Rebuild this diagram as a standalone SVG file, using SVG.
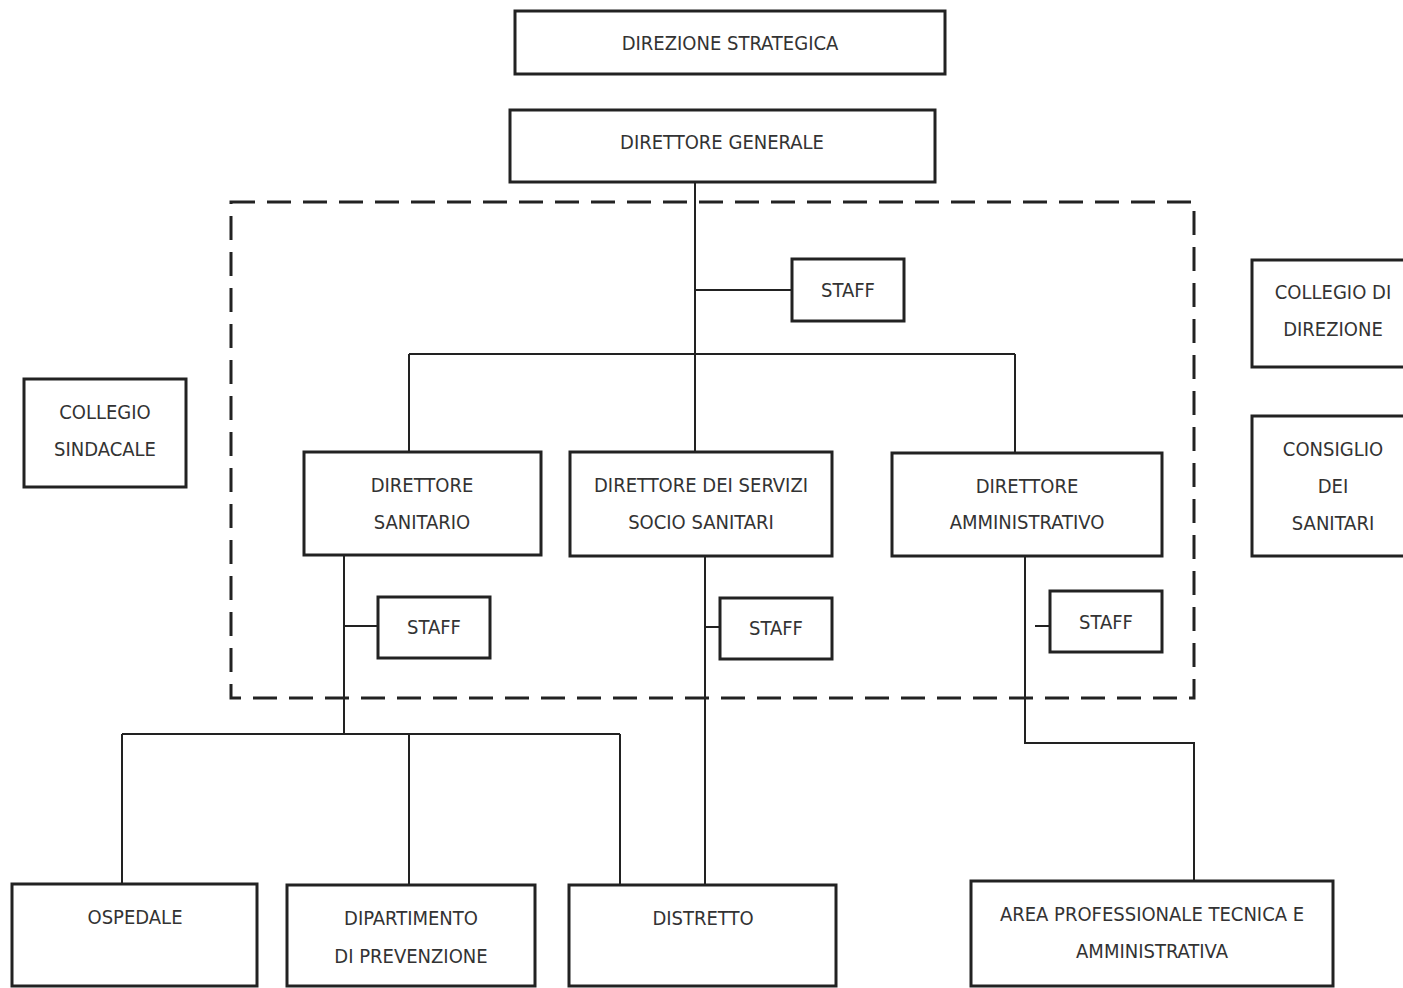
<svg xmlns="http://www.w3.org/2000/svg" width="1403" height="988" viewBox="0 0 1403 988">
<style>
.box{fill:#fff;stroke:#222;stroke-width:3}
.ln{fill:none;stroke:#222;stroke-width:2}
.dash{fill:none;stroke:#222;stroke-width:3;stroke-dasharray:24 12}
text{font-family:"Liberation Sans Narrow","DejaVu Sans Condensed","Liberation Sans",sans-serif;font-size:20px;fill:#333;text-anchor:middle}
</style>
<rect width="1403" height="988" fill="#fff"/>
<g id="connectors">
<rect class="dash" x="231" y="202" width="963" height="496"/>
<path class="ln" d="M695 182V452M695 290H792M409 354H1015M409 354V452M1015 354V452"/>
<path class="ln" d="M344 555V734M344 626H378M122 734H620M122 734V884M409 734V884M620 734V884"/>
<path class="ln" d="M705 556V884M705 627H720"/>
<path class="ln" d="M1025 556V743H1194V881M1035 626H1050"/>
</g>
<g id="direzione-strategica"><rect class="box" x="515" y="11" width="430" height="63"/><text x="730" y="50">DIREZIONE STRATEGICA</text></g>
<g id="direttore-generale"><rect class="box" x="510" y="110" width="425" height="72"/><text x="722" y="149">DIRETTORE GENERALE</text></g>
<g id="staff-dg"><rect class="box" x="792" y="259" width="112" height="62"/><text x="848" y="297">STAFF</text></g>
<g id="collegio-direzione"><rect class="box" x="1252" y="260" width="160" height="107"/><text x="1333" y="299">COLLEGIO DI</text><text x="1333" y="336">DIREZIONE</text></g>
<g id="consiglio-sanitari"><rect class="box" x="1252" y="416" width="160" height="140"/><text x="1333" y="456">CONSIGLIO</text><text x="1333" y="493">DEI</text><text x="1333" y="530">SANITARI</text></g>
<g id="collegio-sindacale"><rect class="box" x="24" y="379" width="162" height="108"/><text x="105" y="419">COLLEGIO</text><text x="105" y="456">SINDACALE</text></g>
<g id="direttore-sanitario"><rect class="box" x="304" y="452" width="237" height="103"/><text x="422" y="492">DIRETTORE</text><text x="422" y="529">SANITARIO</text></g>
<g id="direttore-servizi"><rect class="box" x="570" y="452" width="262" height="104"/><text x="701" y="492">DIRETTORE DEI SERVIZI</text><text x="701" y="529">SOCIO SANITARI</text></g>
<g id="direttore-amministrativo"><rect class="box" x="892" y="453" width="270" height="103"/><text x="1027" y="493">DIRETTORE</text><text x="1027" y="529">AMMINISTRATIVO</text></g>
<g id="staff-ds"><rect class="box" x="378" y="597" width="112" height="61"/><text x="434" y="634">STAFF</text></g>
<g id="staff-dss"><rect class="box" x="720" y="598" width="112" height="61"/><text x="776" y="635">STAFF</text></g>
<g id="staff-da"><rect class="box" x="1050" y="591" width="112" height="61"/><text x="1106" y="629">STAFF</text></g>
<g id="ospedale"><rect class="box" x="12" y="884" width="245" height="102"/><text x="135" y="924">OSPEDALE</text></g>
<g id="dipartimento"><rect class="box" x="287" y="885" width="248" height="101"/><text x="411" y="925">DIPARTIMENTO</text><text x="411" y="963">DI PREVENZIONE</text></g>
<g id="distretto"><rect class="box" x="569" y="885" width="267" height="101"/><text x="703" y="925">DISTRETTO</text></g>
<g id="area-professionale"><rect class="box" x="971" y="881" width="362" height="105"/><text x="1152" y="921">AREA PROFESSIONALE TECNICA E</text><text x="1152" y="958">AMMINISTRATIVA</text></g>
</svg>
